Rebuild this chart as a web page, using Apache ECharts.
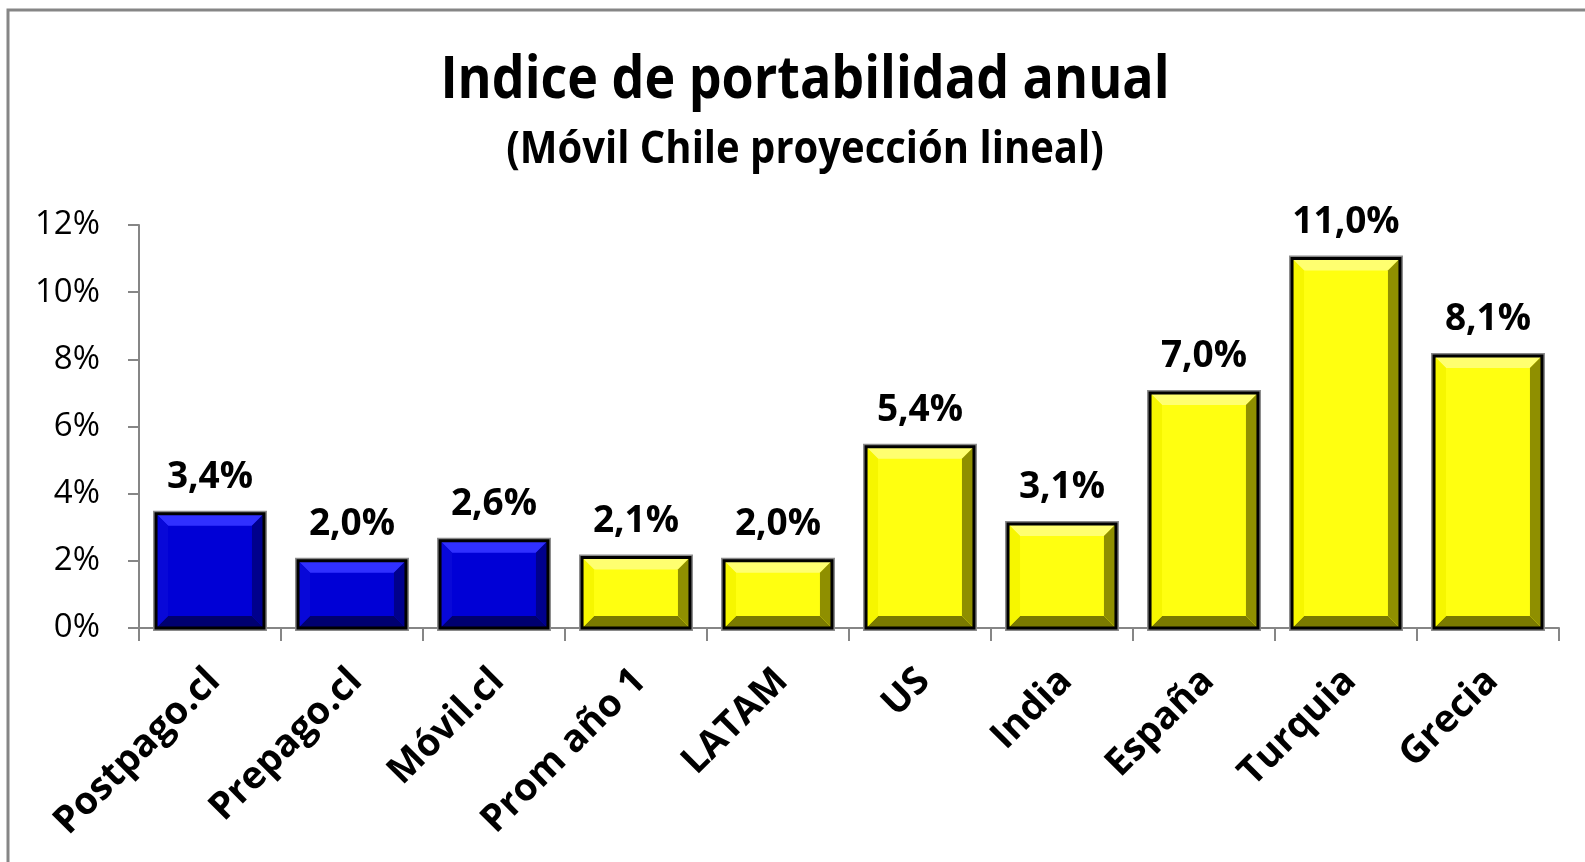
<!DOCTYPE html>
<html>
<head>
<meta charset="utf-8">
<script src="https://cdn.jsdelivr.net/npm/echarts@6/dist/echarts.min.js"></script>
<style>
html,body{margin:0;padding:0;background:#fff;}
#chart{width:1585px;height:862px;}
</style>
</head>
<body>
<div id="chart"></div>
<script>
const titleText = 'Indice de portabilidad anual';
const subtitleText = '(Móvil Chile proyección lineal)';
const categories = ['Postpago.cl','Prepago.cl','Móvil.cl','Prom año 1','LATAM','US','India','España','Turquia','Grecia'];
const values = [3.4, 2.0, 2.6, 2.1, 2.0, 5.4, 3.1, 7.0, 11.0, 8.1];
const chileFlags = [true, true, true, false, false, false, false, false, false, false];
const yTicks = [0, 2, 4, 6, 8, 10, 12];

const FONT = '"Open Sans", "Noto Sans", sans-serif';
const palettes = {
  chile: {face:'#0000d6', top:'#3030ff', left:'#0808d8', right:'#00008c', bottom:'#000070'},
  intl:  {face:'#ffff10', top:'#ffff70', left:'#f6f600', right:'#8f8f00', bottom:'#7a7a00'}
};
function fmt(v){ return v.toFixed(1).replace('.', ',') + '%'; }

const chart = echarts.init(document.getElementById('chart'), null, {renderer:'canvas'});
chart.setOption({
  animation:false,
  backgroundColor:'#ffffff',
  graphic:[
    {type:'rect', silent:true, shape:{x:8, y:10, width:1640, height:900}, style:{fill:'none', stroke:'#868686', lineWidth:3}},
    {type:'text', silent:true, x:805, y:81, scaleY:1.13, style:{text:titleText, font:'bold 52px ' + FONT, fill:'#000', textAlign:'center', textVerticalAlign:'middle'}},
    {type:'text', silent:true, x:805, y:150, scaleY:1.1, style:{text:subtitleText, font:'bold 40px ' + FONT, fill:'#000', textAlign:'center', textVerticalAlign:'middle'}}
  ],
  grid:[
    {left:139, right:26, top:225, bottom:234, containLabel:false},
    {left:143, right:22, top:225, bottom:234, containLabel:false}
  ],
  xAxis:[{
    type:'category',
    gridIndex:0,
    data:categories,
    axisLine:{lineStyle:{color:'#868686', width:2}},
    axisTick:{show:true, length:13, lineStyle:{color:'#868686', width:2}},
    axisLabel:{show:false}
  },{
    type:'category',
    gridIndex:1,
    data:categories,
    axisLine:{show:false},
    axisTick:{show:false},
    axisLabel:{rotate:45, margin:47, fontFamily:FONT, fontWeight:'bold', fontSize:38, color:'#000', interval:0}
  }],
  yAxis:[{
    type:'value', gridIndex:0, min:yTicks[0], max:yTicks[yTicks.length-1], interval:2,
    axisLine:{show:true, lineStyle:{color:'#868686', width:2}},
    axisTick:{show:true, length:11, lineStyle:{color:'#868686', width:2}},
    splitLine:{show:false},
    axisLabel:{margin:39, fontFamily:FONT, fontSize:33, color:'#000', formatter:function(v){return v + '%';}}
  },{
    type:'value', gridIndex:1, min:yTicks[0], max:yTicks[yTicks.length-1], interval:2, show:false, splitLine:{show:false}
  }],
  series:[{
    type:'custom',
    xAxisIndex:0, yAxisIndex:0,
    data:values.map(function(v,i){return [i, v];}),
    encode:{x:0, y:1},
    renderItem:function(params, api){
      const idx = api.value(0), v = api.value(1);
      const topPt = api.coord([idx, v]);
      const botPt = api.coord([idx, 0]);
      const w = api.size([1, 0])[0] * 0.76;
      const L = topPt[0] - w/2, R = topPt[0] + w/2, T = topPt[1], B = botPt[1];
      const b = Math.min(12, (B - T) / 3);
      const p = chileFlags[params.dataIndex] ? palettes.chile : palettes.intl;
      return {type:'group', children:[
        {type:'rect', shape:{x:L, y:T, width:R-L, height:B-T}, style:{fill:'none', stroke:'#8a8a8a', lineWidth:6}},
        {type:'rect', shape:{x:L, y:T, width:R-L, height:B-T}, style:{fill:p.face}},
        {type:'polygon', shape:{points:[[L,T],[R,T],[R-b,T+b],[L+b,T+b]]}, style:{fill:p.top}},
        {type:'polygon', shape:{points:[[L,B],[R,B],[R-b,B-b],[L+b,B-b]]}, style:{fill:p.bottom}},
        {type:'polygon', shape:{points:[[L,T],[L+b,T+b],[L+b,B-b],[L,B]]}, style:{fill:p.left}},
        {type:'polygon', shape:{points:[[R,T],[R-b,T+b],[R-b,B-b],[R,B]]}, style:{fill:p.right}},
        {type:'rect', shape:{x:L, y:T, width:R-L, height:B-T}, style:{fill:'none', stroke:'#000', lineWidth:3}},
        {type:'text', style:{text:fmt(v), x:topPt[0], y:T-18, textAlign:'center', textVerticalAlign:'bottom', font:'bold 37px ' + FONT, fill:'#000'}}
      ]};
    }
  }]
});
</script>
</body>
</html>
